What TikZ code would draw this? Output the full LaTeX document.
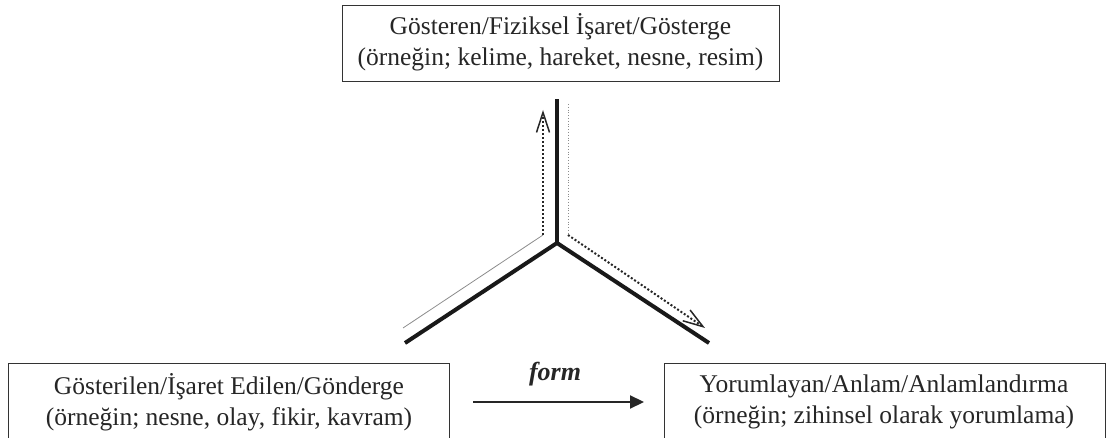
\documentclass[tikz,border=0pt]{standalone}
\usepackage{fontspec}
\setmainfont{Liberation Serif}
\usetikzlibrary{arrows.meta}
\begin{document}
\begin{tikzpicture}[x=1pt,y=-1pt,
  box/.style={draw=black!80, line width=1.2pt, inner sep=0pt, anchor=north west},
  lbl/.style={font=\fontsize{25.5}{31.5}\selectfont, align=center, inner sep=0pt, text=black!85},
  arm/.style={line width=4pt, line join=miter, black!90},
  guide/.style={line width=0.8pt, black!45},
  dotarrow/.style={line width=2pt, dotted, black!85, -{Straight Barb[length=20pt, width=13pt, line width=1.5pt]}}
]
\path[use as bounding box, clip] (0,0) rectangle (1106,438);

% boxes
\node[box, minimum width=437pt, minimum height=76pt] (sig) at (342,5) {};
\node[lbl] (sigt) at (560.5,42) {Gösteren/Fiziksel İşaret/Gösterge\\(örneğin; kelime, hareket, nesne, resim)};

\node[box, minimum width=441pt, minimum height=100pt] (obj) at (8,363) {};
\node[lbl] (objt) at (229,402) {Gösterilen/İşaret Edilen/Gönderge\\(örneğin; nesne, olay, fikir, kavram)};

\node[box, minimum width=441pt, minimum height=100pt] (int) at (664,363) {};
\node[lbl] (intt) at (884,402) {Yorumlayan/Anlam/Anlamlandırma\\(örneğin; zihinsel olarak yorumlama)};

% central figure
\coordinate (c) at (557,243);
\coordinate (up) at (557,99);
\coordinate (lf) at (405,343);
\coordinate (rt) at (709,343);
\draw[arm] (lf) -- (c) -- (rt);
\draw[arm] (c) -- (up);

% left guide + dotted arrow up
\coordinate (g1) at (403,328);
\coordinate (g2) at (543,235);
\coordinate (g3) at (543,110);
\draw[guide] (g1) -- (g2);
\draw[dotarrow] (g2) -- (g3);

% right guide + dotted arrow down-right
\coordinate (h1) at (568,104);
\coordinate (h2) at (568,235);
\coordinate (h3) at (705,328);
\draw[guide, dotted] (h1) -- (h2);
\draw[dotarrow] (h2) -- (h3);

% form arrow
\coordinate (fa) at (473,402);
\coordinate (fb) at (644,402);
\draw[line width=2.2pt, black!85, -{Triangle[length=14pt, width=13pt]}] (fa) -- (fb);
\node[font=\fontsize{26}{31}\selectfont\bfseries\itshape, inner sep=0pt, text=black!85] (form) at (555,374) {form};
\end{tikzpicture}
\end{document}
